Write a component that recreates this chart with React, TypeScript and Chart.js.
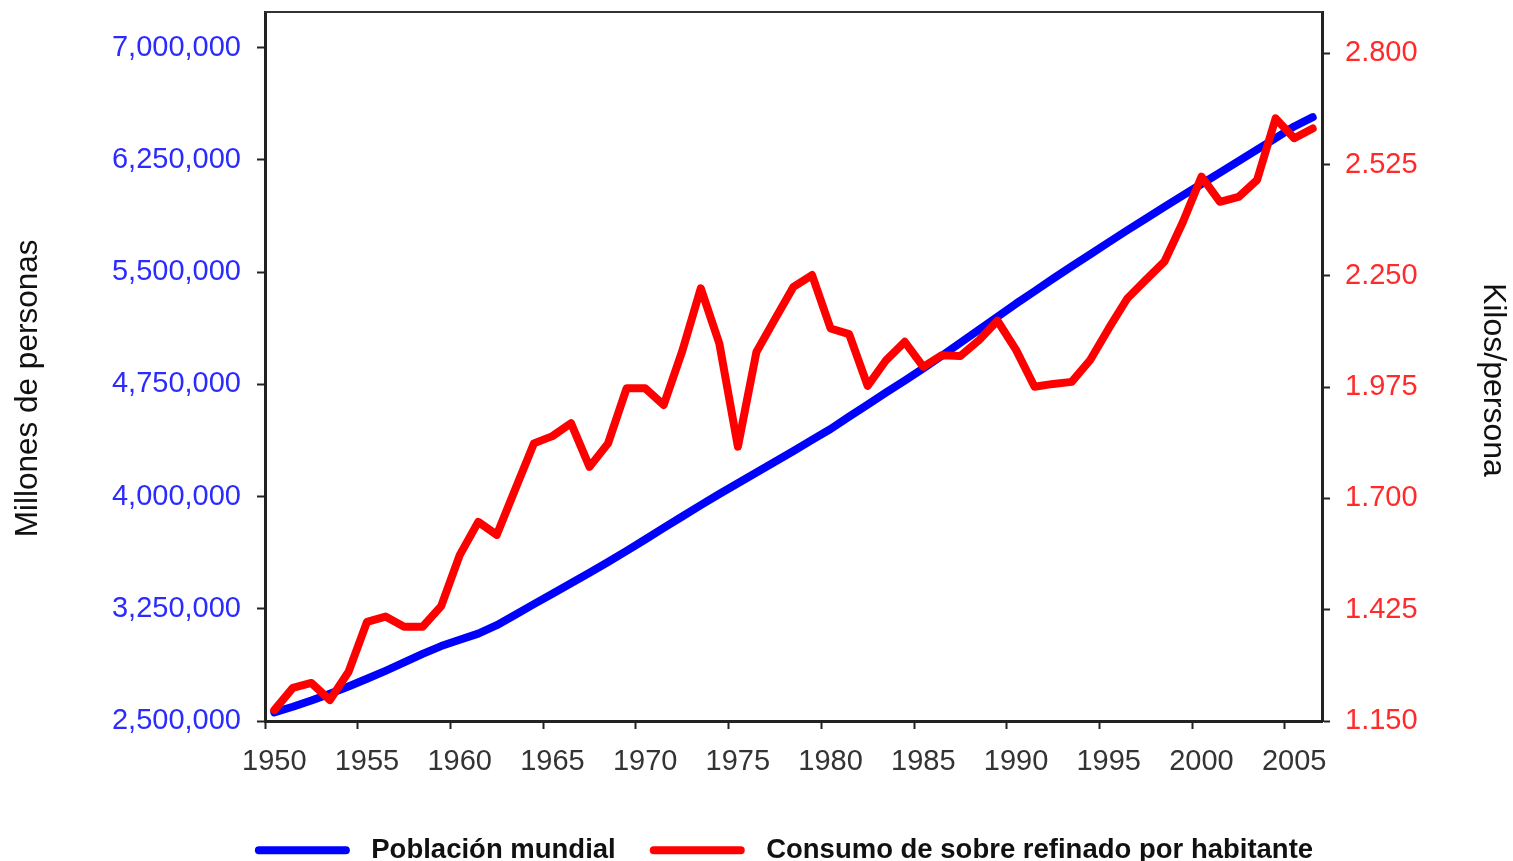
import React, { useEffect, useRef } from 'react';
import { Chart, registerables } from 'chart.js';

Chart.register(...registerables);

const years = [
  '1950', '1951', '1952', '1953', '1954', '1955', '1956', '1957', '1958', '1959',
  '1960', '1961', '1962', '1963', '1964', '1965', '1966', '1967', '1968', '1969',
  '1970', '1971', '1972', '1973', '1974', '1975', '1976', '1977', '1978', '1979',
  '1980', '1981', '1982', '1983', '1984', '1985', '1986', '1987', '1988', '1989',
  '1990', '1991', '1992', '1993', '1994', '1995', '1996', '1997', '1998', '1999',
  '2000', '2001', '2002', '2003', '2004', '2005', '2006',
];

const poblacionMundial = [
  2557629, 2594940, 2636772, 2682053, 2730228, 2782099, 2835300, 2891350, 2948137, 3000717,
  3043002, 3083967, 3140093, 3209828, 3281201, 3350426, 3420678, 3490334, 3562314, 3637159,
  3712698, 3790327, 3866569, 3942096, 4016609, 4089083, 4160185, 4232085, 4304106, 4379014,
  4451363, 4534410, 4614567, 4695737, 4774569, 4856463, 4940571, 5027200, 5114557, 5201440,
  5288956, 5371586, 5456136, 5538268, 5618682, 5699203, 5779441, 5857973, 5935213, 6012075,
  6088571, 6165219, 6242016, 6318591, 6395700, 6473045, 6535000,
];

const consumoAzucar = [
  1.177, 1.232, 1.244, 1.202, 1.271, 1.395, 1.408, 1.383, 1.383, 1.434,
  1.560, 1.642, 1.610, 1.723, 1.836, 1.854, 1.886, 1.778, 1.836, 1.972,
  1.972, 1.931, 2.064, 2.219, 2.083, 1.828, 2.062, 2.143, 2.223, 2.252,
  2.120, 2.106, 1.978, 2.042, 2.087, 2.025, 2.054, 2.052, 2.091, 2.139,
  2.067, 1.976, 1.983, 1.988, 2.042, 2.120, 2.194, 2.240, 2.285, 2.383,
  2.495, 2.433, 2.445, 2.487, 2.639, 2.590, 2.614,
];

const leftTicks = [2500000, 3250000, 4000000, 4750000, 5500000, 6250000, 7000000];
const rightTicks = [1.15, 1.425, 1.7, 1.975, 2.25, 2.525, 2.8];

const FONT = "'Liberation Sans', Arial, sans-serif";

const frameTop = {
  id: 'frameTop',
  afterDraw(chart: any) {
    const { ctx, chartArea } = chart;
    ctx.save();
    ctx.strokeStyle = '#333';
    ctx.lineWidth = 2;
    ctx.beginPath();
    ctx.moveTo(chartArea.left, chartArea.top);
    ctx.lineTo(chartArea.right, chartArea.top);
    ctx.stroke();
    ctx.restore();
  },
};

export default function App() {
  const ref = useRef<HTMLCanvasElement | null>(null);

  useEffect(() => {
    if (!ref.current) return;
    Chart.defaults.font.family = FONT;
    const chart = new Chart(ref.current, {
      type: 'line',
      data: {
        labels: years,
        datasets: [
          {
            label: 'Población mundial',
            data: poblacionMundial,
            yAxisID: 'y',
            borderColor: '#0000ff',
            backgroundColor: '#0000ff',
            borderWidth: 8,
            pointRadius: 0,
            tension: 0,
            borderJoinStyle: 'round',
            borderCapStyle: 'round',
            order: 1,
          },
          {
            label: 'Consumo de sobre refinado por habitante',
            data: consumoAzucar,
            yAxisID: 'y1',
            borderColor: '#ff0000',
            backgroundColor: '#ff0000',
            borderWidth: 8,
            pointRadius: 0,
            tension: 0,
            borderJoinStyle: 'round',
            borderCapStyle: 'round',
            order: 0,
          },
        ],
      },
      options: {
        responsive: false,
        animation: false,
        layout: { padding: { top: 12, left: 55, right: 0, bottom: 0 } },
        plugins: {
          tooltip: { enabled: false },
          legend: {
            position: 'bottom',
            fullSize: true,
            labels: {
              boxWidth: 95,
              boxHeight: 8,
              useBorderRadius: true,
              borderRadius: 4,
              padding: 34,
              color: '#111',
              font: { size: 27.5, weight: 'bold', family: FONT },
              sort: (a: any, b: any) => a.datasetIndex - b.datasetIndex,
              generateLabels: (c: any) =>
                (Chart.defaults.plugins.legend.labels as any)
                  .generateLabels(c)
                  .map((it: any) => ({ ...it, text: ' ' + it.text, lineWidth: 0, fillStyle: it.strokeStyle })),
            },
          },
        },
        scales: {
          x: {
            type: 'category',
            offset: true,
            grid: {
              offset: true,
              drawOnChartArea: false,
              drawTicks: true,
              tickLength: 8,
              tickWidth: 2,
              tickColor: (c: any) => (typeof c.index === 'number' && c.index % 5 === 0 ? '#222' : 'rgba(0,0,0,0)'),
            },
            border: { display: true, color: '#222', width: 3 },
            ticks: {
              autoSkip: false,
              maxRotation: 0,
              minRotation: 0,
              padding: 16,
              color: '#333',
              font: { size: 29, family: FONT },
              callback: function (this: any, v: any, i: number) {
                return i % 5 === 0 ? this.getLabelForValue(v) : '';
              },
            },
            afterFit: (s: any) => {
              s.height = 81.5;
            },
          },
          y: {
            position: 'left',
            min: 2500000,
            max: 7238000,
            afterBuildTicks: (s: any) => {
              s.ticks = leftTicks.map((v) => ({ value: v }));
            },
            grid: { drawOnChartArea: false, tickLength: 8, tickWidth: 2, tickColor: '#222' },
            border: { display: true, color: '#222', width: 3 },
            ticks: {
              padding: 16,
              color: '#2b2bff',
              font: { size: 29, family: FONT },
              callback: (v: any) => Number(v).toLocaleString('en-US'),
            },
            title: {
              display: true,
              text: 'Millones de personas     ',
              color: '#111',
              font: { size: 31.5, family: FONT },
              padding: { top: -46, bottom: 0 },
            },
            afterFit: (s: any) => {
              s.width = 210;
              s.paddingTop = 0;
              s.paddingBottom = 0;
            },
          },
          y1: {
            position: 'right',
            min: 1.15,
            max: 2.902,
            afterBuildTicks: (s: any) => {
              s.ticks = rightTicks.map((v) => ({ value: v }));
            },
            grid: { drawOnChartArea: false, tickLength: 8, tickWidth: 2, tickColor: '#222' },
            border: { display: true, color: '#222', width: 3 },
            ticks: {
              padding: 15,
              color: '#ff2a2a',
              font: { size: 29, family: FONT },
              callback: (v: any) => Number(v).toFixed(3),
            },
            title: {
              display: true,
              text: '   Kilos/persona',
              color: '#111',
              font: { size: 32, family: FONT },
              padding: { top: 1, bottom: 0 },
            },
            afterFit: (s: any) => {
              s.width = 191;
              s.paddingTop = 0;
              s.paddingBottom = 0;
            },
          },
        },
      },
      plugins: [frameTop],
    } as any);
    return () => chart.destroy();
  }, []);

  return (
    <div style={{ position: 'fixed', left: 0, top: 0, width: 1513, height: 861, overflow: 'hidden', background: '#fff' }}>
      <canvas ref={ref} width={1513} height={874} style={{ display: 'block' }} />
    </div>
  );
}
